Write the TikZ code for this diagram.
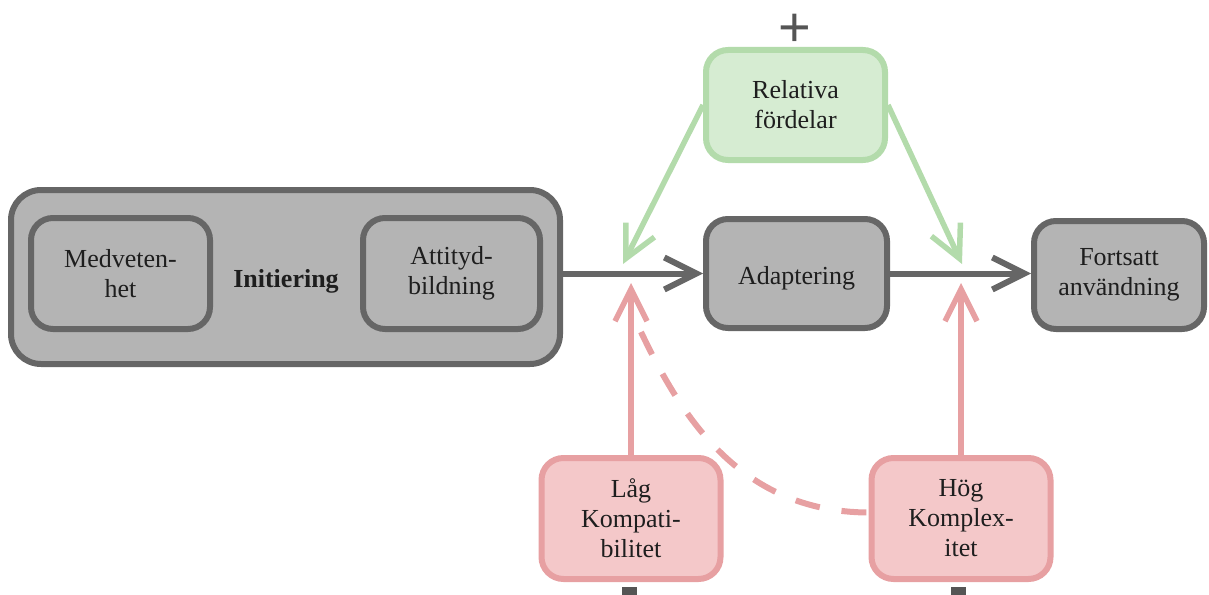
\documentclass[tikz,border=0pt]{standalone}
\usepackage{fontspec}
\setmainfont{Liberation Serif}
\newfontfamily\plusfont{Liberation Sans}
\usetikzlibrary{arrows.meta}
\definecolor{grayline}{HTML}{666666}
\definecolor{grayfill}{HTML}{B4B4B4}
\definecolor{greenline}{HTML}{B3DBAB}
\definecolor{greenfill}{HTML}{D6ECD2}
\definecolor{redline}{HTML}{E7A0A2}
\definecolor{redfill}{HTML}{F4C8C9}
\definecolor{txt}{HTML}{1E1E1E}
\definecolor{signcol}{HTML}{555555}
\begin{document}
\begin{tikzpicture}[x=1pt,y=-1pt,
  base/.style={line width=6pt, rounded corners=22pt, text=txt, align=center,
    font=\fontsize{26}{30}\selectfont, inner sep=0pt,
    execute at begin node={\rule{0pt}{27pt}}},
  graybox/.style={base, draw=grayline, fill=grayfill},
  greenbox/.style={base, draw=greenline, fill=greenfill},
  redbox/.style={base, draw=redline, fill=redfill},
  tipped/.style={-{Straight Barb[length=32pt,width=32pt]}, line width=6pt},
  grayarrow/.style={tipped, draw=grayline},
  greenarrow/.style={tipped, draw=greenline, line width=5.5pt},
  redarrow/.style={tipped, draw=redline, line width=5.5pt},
  dashlink/.style={draw=redline, line width=6pt, dash pattern=on 25pt off 22pt},
  sign/.style={text=signcol, font=\plusfont\fontsize{56}{56}\selectfont, inner sep=0pt}
]
\useasboundingbox (0,0) rectangle (1209,594);

% Initiering group
\node[graybox, rounded corners=30pt, minimum width=549pt, minimum height=174pt,
      execute at begin node={}] (init) at (285.5,277) {};
\node[graybox, minimum width=179pt, minimum height=111pt] (medv) at (120.5,273.5) {Medveten-\\het};
\node[graybox, minimum width=177pt, minimum height=111pt] (att) at (451.5,273.5) {Attityd-\\bildning};
\node[text=txt, font=\fontsize{26}{30}\selectfont\bfseries, inner sep=0pt] (initlbl) at (286,281) {Initiering};

% main chain
\node[graybox, minimum width=181pt, minimum height=109pt] (adap) at (796.5,273.5) {Adaptering};
\node[graybox, minimum width=170pt, minimum height=108pt] (fort) at (1119,275) {Fortsatt\\användning};

% factor boxes
\node[greenbox, minimum width=179pt, minimum height=110pt] (rel) at (795.5,105) {Relativa\\fördelar};
\node[redbox, minimum width=179pt, minimum height=121pt] (lag) at (631,518.5) {Låg\\Kompati-\\bilitet};
\node[redbox, minimum width=179pt, minimum height=121pt] (hog) at (961,518.5) {Hög\\Komplex-\\itet};

% signs
\node[sign, anchor=base] (plus) at (795,47) {+};
\fill[signcol] (622,587) rectangle (637,600);
\fill[signcol] (951,587) rectangle (966,600);

% junction points
\coordinate (g1) at (623,264);
\coordinate (g2) at (962,264);
\coordinate (r1) at (631,283);
\coordinate (r2) at (961,283);
\coordinate (d1) at (641,332);

% connectors
\draw[grayarrow] (init.east |- adap.west) -- (adap.west);
\draw[grayarrow] (adap.east) -- (adap.east -| fort.west);
\draw[greenarrow] (rel.west) -- (g1);
\draw[greenarrow] (rel.east) -- (g2);
\draw[redarrow] (lag.north) -- (lag.north |- r1);
\draw[redarrow] (hog.north) -- (hog.north |- r2);
\draw[dashlink] (d1) .. controls (679.5,412.5) and (738,512) .. ([yshift=6pt]hog.west);
\end{tikzpicture}
\end{document}
